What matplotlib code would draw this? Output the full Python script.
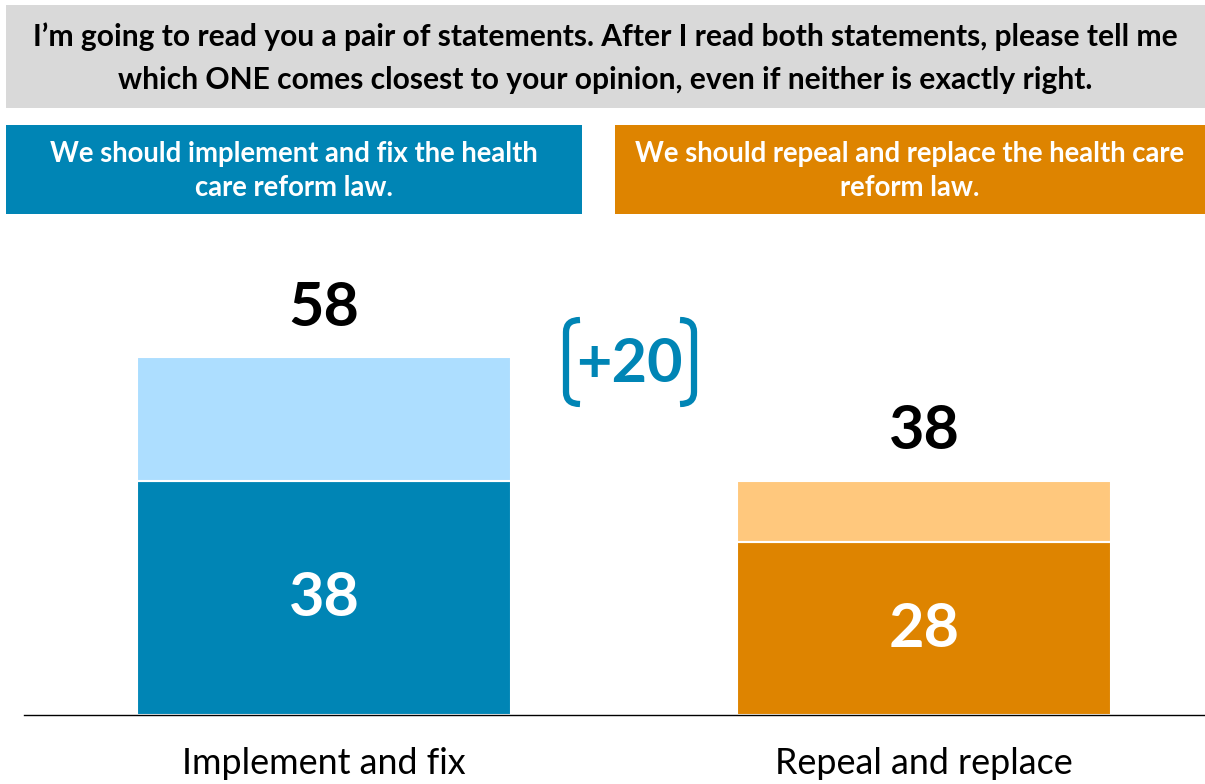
import matplotlib.pyplot as plt
from matplotlib.patches import Rectangle, PathPatch
from matplotlib.path import Path

plt.rcParams['font.family'] = ['Lato', 'DejaVu Sans']

# data
categories = ['Implement and fix', 'Repeal and replace']
strong = [38, 28]
total = [58, 38]
statements = ['We should implement and fix the health\ncare reform law.',
              'We should repeal and replace the health care\nreform law.']
question = ("I\u2019m going to read you a pair of statements. After I read both statements, please tell me\n"
            "which ONE comes closest to your opinion, even if neither is exactly right.")
margin_label = '+20'

dark = ['#0085B5', '#DE8400']
light = ['#ADDEFF', '#FFC87D']

W, H = 1205, 784
fig = plt.figure(figsize=(W / 100, H / 100), dpi=100, facecolor='white')


def fx(px):
    return px / W


def fy(py):
    return 1 - py / H


# header boxes
fig.patches.append(Rectangle((fx(6), fy(108)), fx(1205 - 6), 103 / H,
                             transform=fig.transFigure, facecolor='#D9D9D9', edgecolor='none'))
fig.text(fx(605), fy(58), question, ha='center', va='center', fontsize=21.6,
         fontweight='bold', color='black', linespacing=1.68)

box_x = [(6, 582), (615, 1205)]
for (x0, x1), c, s in zip(box_x, dark, statements):
    fig.patches.append(Rectangle((fx(x0), fy(214)), fx(x1 - x0), 89 / H,
                                 transform=fig.transFigure, facecolor=c, edgecolor='none'))
    fig.text(fx((x0 + x1) / 2), fy(171), s, ha='center', va='center', fontsize=19.8,
             fontweight='bold', color='white', linespacing=1.4)

# bars
ax = fig.add_axes([fx(24), fy(715), fx(1205 - 24), (715 - 240) / H])
xs = range(len(categories))
ax.bar(xs, strong, width=0.623, color=dark, edgecolor='white', linewidth=1.5)
ax.bar(xs, [t - s for t, s in zip(total, strong)], bottom=strong, width=0.623,
       color=light, edgecolor='white', linewidth=1.5)
ax.set_xlim(-0.5, 1.468)
ax.set_ylim(0, 77.0)
for sp in ['top', 'left', 'right']:
    ax.spines[sp].set_visible(False)
ax.spines['bottom'].set_linewidth(1.0)
ax.set_yticks([])
ax.set_xticks(list(xs))
ax.set_xticklabels(categories, fontsize=25.8)
ax.tick_params(axis='x', length=0, pad=23)

for i in xs:
    ax.text(i, strong[i] / 2, str(strong[i]), ha='center', va='center',
            fontsize=44, fontweight='bold', color='white')
    ax.text(i, total[i] + 8, str(total[i]), ha='center', va='center',
            fontsize=44, fontweight='bold', color='black')

# difference with brackets
fig.text(fx(629), fy(364), margin_label, ha='center', va='center', fontsize=44,
         fontweight='bold', color=dark[0])


def bracket(x_end, x_side, y_top, y_bot):
    r = 12
    verts = [(x_end, y_top), (x_side, y_top), (x_side, y_top + r),
             (x_side, y_bot - r), (x_side, y_bot), (x_end, y_bot)]
    codes = [Path.MOVETO, Path.CURVE3, Path.CURVE3, Path.LINETO, Path.CURVE3, Path.CURVE3]
    verts = [(fx(a), fy(b)) for a, b in verts]
    fig.patches.append(PathPatch(Path(verts, codes), transform=fig.transFigure,
                                 facecolor='none', edgecolor=dark[0], linewidth=4.5,
                                 capstyle='butt'))


bracket(580, 566, 320, 404)
bracket(680, 694, 320, 404)

fig.savefig('out.png', dpi=100, facecolor='white')
